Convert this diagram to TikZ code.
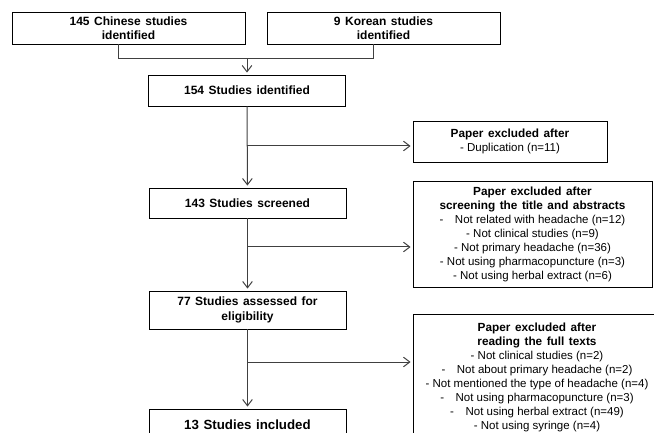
\documentclass[tikz,border=0pt]{standalone}
\usepackage{fontspec}
\setmainfont{Liberation Sans}
\usetikzlibrary{arrows.meta,positioning}
\newcommand\widesp{\spaceskip=4.5pt\relax}
\newcommand\hd[1]{{\fontsize{11.8}{14}\selectfont\bfseries\widesp #1}}

\begin{document}
\begin{tikzpicture}[
  x=1pt,y=-1pt,
  font=\fontsize{11.5}{14}\selectfont,
  box/.style={draw,line width=0.9pt,inner sep=2pt,align=center,
              font=\fontsize{12}{14.5}\selectfont\bfseries\widesp},
  exbox/.style={draw,line width=0.9pt,inner sep=2pt,align=center},
  ln/.style={draw=black!75,line width=1pt},
  ar/.style={ln,-{Straight Barb[length=2.2mm,width=3.4mm]},shorten >=2pt}
]
\useasboundingbox (0,0) rectangle (654,433);
\node[box,minimum width=233,minimum height=32] (chn) at (128.5,28)
  {145 Chinese studies\\identified};
\node[box,minimum width=233,minimum height=32] (kor) at (383.5,28)
  {9 Korean studies\\identified};
\node[box,minimum width=197,minimum height=31] (ident) at (247,90.5)
  {154 Studies identified};
\node[box,minimum width=197,minimum height=30] (screen) at (247.5,203)
  {143 Studies screened};
\node[box,minimum width=197,minimum height=38] (elig) at (247.5,310)
  {77 Studies assessed for\\eligibility};
\node[box,minimum width=197,minimum height=32,
      font=\fontsize{13.3}{14}\selectfont\bfseries\widesp] (incl) at (247.5,425)
  {13 Studies included};

\node[exbox,minimum width=194,minimum height=41] (dup) at (510,141.5)
  {\hd{Paper excluded after}\\- Duplication (n=11)};
\node[exbox,minimum width=239,minimum height=106] (scrx) at (532.5,234)
  {\hd{Paper excluded after}\\
   \hd{screening the title and abstracts}\\
   -\quad Not related with headache (n=12)\\
   - Not clinical studies (n=9)\\
   - Not primary headache (n=36)\\
   - Not using pharmacopuncture (n=3)\\
   - Not using herbal extract (n=6)};
\node[exbox,minimum width=248,minimum height=126,anchor=north] (fullx) at (537,314)
  {\hd{Paper excluded after}\\
   \hd{reading the full texts}\\
   - Not clinical studies (n=2)\\
   -\quad Not about primary headache (n=2)\\
   - Not mentioned the type of headache (n=4)\\
   -\quad Not using pharmacopuncture (n=3)\\
   -\quad Not using herbal extract (n=49)\\
   - Not using syringe (n=4)};

% join of the two sources
\coordinate (j) at (247,59);
\draw[ln] ([xshift=-10pt]chn.south) |- ([xshift=-10pt]kor.south |- j)
  -- ([xshift=-10pt]kor.south);
\draw[ar] (j) -- (ident);

% main flow with exclusions
\coordinate (b1) at (247,146);
\coordinate (b2) at (247,247);
\coordinate (b3) at (247,362);
\draw[ar] (ident) -- (screen);
\draw[ar] (b1) -- (dup.west |- b1);
\draw[ar] (screen) -- (elig);
\draw[ar] (b2) -- (scrx.west |- b2);
\draw[ar] (elig) -- (incl);
\draw[ar] (b3) -- (fullx.west |- b3);
\end{tikzpicture}
\end{document}
